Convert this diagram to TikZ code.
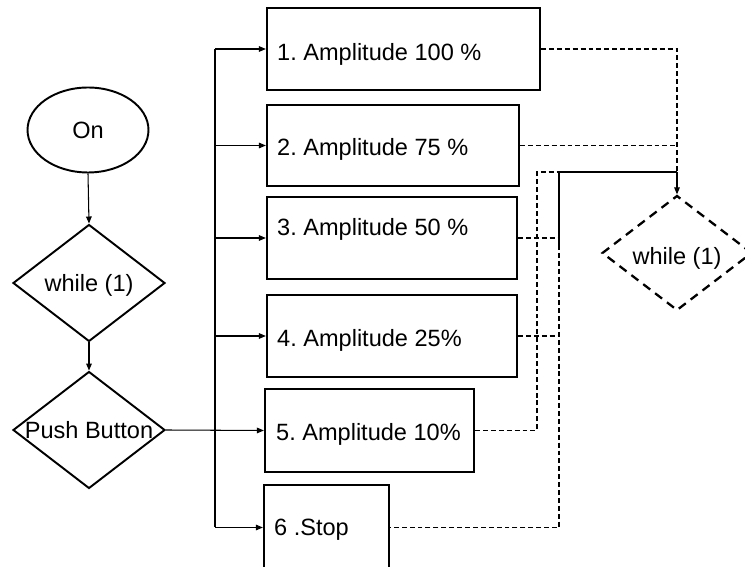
\documentclass[tikz,border=0pt]{standalone}
\usepackage{fontspec}
\setmainfont{Liberation Sans}
\usetikzlibrary{shapes.geometric,arrows.meta}
\frenchspacing
\begin{document}
\begin{tikzpicture}[x=0.02cm,y=-0.02cm,
  every node/.style={font=\fontsize{13.4}{15}\selectfont},
  box/.style={draw, rectangle, line width=1.3pt, inner sep=0pt},
  link/.style={line width=0.6pt},
  arr/.style={link, -{Triangle[length=4pt,width=3.2pt]}},
  dsh/.style={line width=0.6pt, dash pattern=on 2.8pt off 1.7pt},
  dec/.style={draw, diamond, line width=1.1pt, inner sep=0pt, aspect=1.3,
              minimum width=3.04cm, minimum height=2.34cm},
  lbl/.style={inner sep=0pt, anchor=west}]
\useasboundingbox (0,0) rectangle (745,567);
\clip (0,0) rectangle (745,567);

% left column: start, loop and button test
\node[draw, ellipse, line width=1.1pt, inner sep=0pt,
      minimum width=2.42cm, minimum height=1.7cm] (on) at (88,130) {On};
\node[dec, text height=13pt, text depth=3pt] (w1) at (89,283) {while (1)};
\node[dec] (pb) at (89,430) {Push Button};

% the six actions
\node[box, minimum width=5.46cm, minimum height=1.64cm] (b1) at (403.5,49) {};
\node[box, minimum width=5.04cm, minimum height=1.62cm] (b2) at (393,145.5) {};
\node[box, minimum width=5.0cm, minimum height=1.64cm] (b3) at (392,238) {};
\node[box, minimum width=5.0cm, minimum height=1.64cm] (b4) at (392,336) {};
\node[box, minimum width=4.18cm, minimum height=1.66cm] (b5) at (369.5,430.5) {};
\node[box, minimum width=2.5cm, minimum height=1.7cm] (b6) at (326.5,527.5) {};

\node[lbl] (t1) at ([xshift=0.22cm,yshift=-0.1cm]b1.west) {1. Amplitude 100 \%};
\node[lbl] (t2) at ([xshift=0.22cm,yshift=-0.08cm]b2.west) {2. Amplitude 75 \%};
\node[lbl] (t3) at ([xshift=0.22cm,yshift=0.18cm]b3.west) {3. Amplitude 50 \%};
\node[lbl] (t4) at ([xshift=0.22cm,yshift=-0.08cm]b4.west) {4. Amplitude 25\%};
\node[lbl] (t5) at ([xshift=0.24cm,yshift=-0.07cm]b5.west) {5. Amplitude 10\%};
\node[lbl] (t6) at ([xshift=0.22cm,yshift=-0.05cm]b6.west) {6 .Stop};

% loop back target
\node[dec, line width=1.3pt, dash pattern=on 5pt off 3.5pt,
      text height=16pt, text depth=3pt,
      minimum width=3.0cm, minimum height=2.3cm] (w2) at (677,253) {while (1)};

% main flow
\draw[arr] (on.south) -- (w1.north);
\draw[arr] (w1.south) -- (pb.north);
\draw[arr] (pb.east) -- (b5.west);

% branch trunk to the actions
\coordinate (tk) at (215,0);
\draw[link] (b1.west -| tk) -- (b6.west -| tk);
\foreach \b in {b1,b2,b3,b4,b6}
  \draw[arr] (\b.west -| tk) -- (\b.west);

% return paths
\coordinate (m)  at (677,172);
\coordinate (c1) at (559,172);
\coordinate (c2) at (537,172);
\coordinate (c3) at (559,245);
\draw[dsh] (b1.east) -| (m);
\draw[dsh] (b2.east) -- (b2.east -| m);
\draw[arr] (m) -- (w2.north);
\draw[link] (c1) -- (m);
\draw[link] (c1) -- (c3);
\draw[dsh] (c3) |- (b6.east);
\draw[dsh] (b3.east) -- (b3.east -| c1);
\draw[dsh] (b4.east) -- (b4.east -| c1);
\draw[dsh] (b5.east) -| (c2) -- (c1);
\end{tikzpicture}
\end{document}
